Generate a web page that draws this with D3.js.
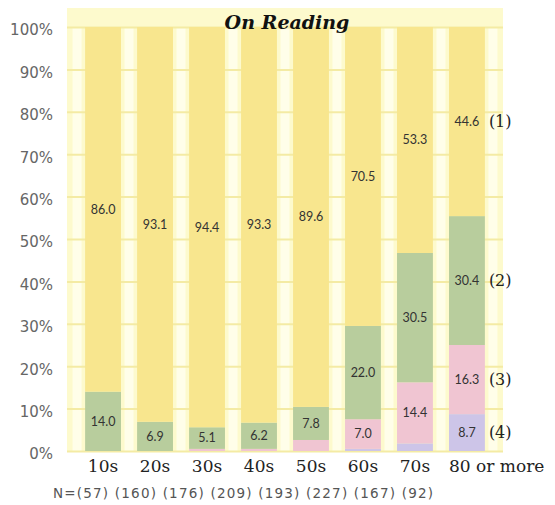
<!DOCTYPE html>
<html>
<head>
<meta charset="utf-8">
<script src="https://cdn.jsdelivr.net/npm/d3@7"></script>
<style>
  body { margin: 0; background: #fff; }
</style>
</head>
<body>
<div id="chart"></div>
<script>
// categories and answers, bottom segment first: (4), (3), (2), (1)
var ages = ["10s", "20s", "30s", "40s", "50s", "60s", "70s", "80 or more"];
var counts = [57, 160, 176, 209, 193, 227, 167, 92];
var ans4 = [0, 0, 0, 0, 0, 0.5, 1.8, 8.7];
var ans3 = [0, 0, 0.5, 0.5, 2.6, 7.0, 14.4, 16.3];
var ans2 = [14.0, 6.9, 5.1, 6.2, 7.8, 22.0, 30.5, 30.4];
var ans1 = [86.0, 93.1, 94.4, 93.3, 89.6, 70.5, 53.3, 44.6];
var seriesNames = ["(4)", "(3)", "(2)", "(1)"];
var yTicks = [0, 10, 20, 30, 40, 50, 60, 70, 80, 90, 100];

var width = 555, height = 505;
var colors = ["#cdc5e8", "#f0c5d2", "#b8cd9d", "#f8e68e"];

var svg = d3.select("#chart").append("svg")
  .attr("width", width)
  .attr("height", height);

var x = d3.scaleBand()
  .domain(ages)
  .range([69, 501])
  .paddingInner(0.31)
  .paddingOuter(0.31);

var y = d3.scaleLinear()
  .domain([0, 100])
  .range([451, 27]);

// plot background
svg.append("rect")
  .attr("x", 67).attr("y", 8)
  .attr("width", 436).attr("height", y(0) - 8)
  .attr("fill", "#fdfacd");

// whiter stripes in the gaps
var gap = x.step() - x.bandwidth();
var stripeX = ages.map(function (a) { return x(a) - gap / 2; });
stripeX.push(x(ages[ages.length - 1]) + x.bandwidth() + gap / 2);
svg.selectAll("rect.stripe")
  .data(stripeX)
  .enter().append("rect")
  .attr("class", "stripe")
  .attr("x", function (d) { return d - 4.5; })
  .attr("y", y(100))
  .attr("width", 9)
  .attr("height", y(0) - y(100))
  .attr("fill", "#fffee9");

// grid
svg.append("g")
  .attr("transform", "translate(67,0)")
  .call(d3.axisLeft(y).tickValues(yTicks).tickSize(-436).tickFormat(""))
  .call(function (g) { g.select(".domain").remove(); })
  .selectAll("line")
  .attr("stroke", "#f4eba4")
  .attr("stroke-width", 2);

// stacked bars
var rows = ages.map(function (a, i) {
  return { age: a, s0: ans4[i], s1: ans3[i], s2: ans2[i], s3: ans1[i] };
});
var stack = d3.stack().keys(["s0", "s1", "s2", "s3"]);
var layers = stack(rows);

var layerG = svg.selectAll("g.layer")
  .data(layers)
  .enter().append("g")
  .attr("class", "layer")
  .attr("fill", function (d, i) { return colors[i]; });

layerG.selectAll("rect")
  .data(function (d) { return d; })
  .enter().append("rect")
  .attr("x", function (d) { return x(d.data.age); })
  .attr("y", function (d) { return y(d[1]); })
  .attr("width", x.bandwidth())
  .attr("height", function (d) { return y(d[0]) - y(d[1]); });

// value labels
layerG.selectAll("text")
  .data(function (d) { return d.filter(function (p) { return p[1] - p[0] >= 5; }); })
  .enter().append("text")
  .attr("x", function (d) { return x(d.data.age) + x.bandwidth() / 2; })
  .attr("y", function (d) { return y((d[0] + d[1]) / 2); })
  .attr("dy", "0.35em")
  .attr("text-anchor", "middle")
  .attr("fill", "#333")
  .style("font-family", "Lato, 'Noto Sans', sans-serif")
  .style("font-size", "12.5px")
  .text(function (d) { return (d[1] - d[0]).toFixed(1); });

// series names next to the last bar
var lastAge = ages[ages.length - 1];
svg.selectAll("text.sname")
  .data(layers)
  .enter().append("text")
  .attr("class", "sname")
  .attr("x", x(lastAge) + x.bandwidth() + 4)
  .attr("y", function (d) {
    var p = d[d.length - 1];
    return y((p[0] + p[1]) / 2);
  })
  .attr("dy", "0.35em")
  .attr("fill", "#222")
  .style("font-family", "'DejaVu Serif', serif")
  .style("font-size", "16px")
  .text(function (d, i) { return seriesNames[i]; });

// y axis labels
svg.append("g")
  .attr("transform", "translate(56,3)")
  .call(d3.axisLeft(y).tickValues(yTicks).tickSize(0).tickFormat(function (d) { return d + "%"; }))
  .call(function (g) { g.select(".domain").remove(); })
  .selectAll("text")
  .attr("fill", "#666")
  .style("font-family", "'DejaVu Sans', sans-serif")
  .style("font-size", "15px");

// x labels
svg.selectAll("text.age")
  .data(ages)
  .enter().append("text")
  .attr("class", "age")
  .attr("x", function (d, i) {
    return i === ages.length - 1 ? x(d) : x(d) + x.bandwidth() / 2;
  })
  .attr("y", 472)
  .attr("text-anchor", function (d, i) { return i === ages.length - 1 ? "start" : "middle"; })
  .attr("fill", "#222")
  .style("font-family", "'DejaVu Serif', serif")
  .style("font-size", "17px")
  .text(function (d) { return d; });

// N line
svg.append("text")
  .attr("x", 53)
  .attr("y", 498)
  .attr("textLength", 380)
  .attr("lengthAdjust", "spacing")
  .attr("fill", "#555")
  .style("font-family", "'DejaVu Sans', sans-serif")
  .style("font-size", "13.5px")
  .text("N=" + counts.map(function (n) { return "(" + n + ")"; }).join(" "));

// title
svg.append("text")
  .attr("x", 287)
  .attr("y", 29)
  .attr("text-anchor", "middle")
  .attr("fill", "#111")
  .style("font-family", "'DejaVu Serif', serif")
  .style("font-weight", "bold")
  .style("font-style", "italic")
  .style("font-size", "19px")
  .text("On Reading");
</script>
</body>
</html>
